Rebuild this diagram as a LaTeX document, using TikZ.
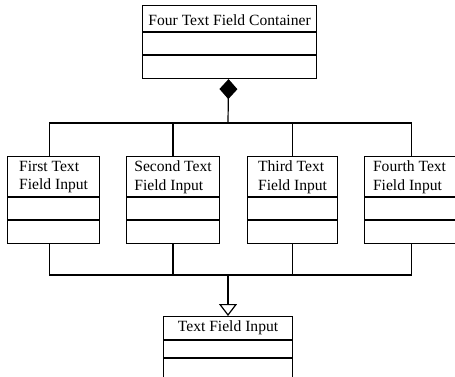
\documentclass[tikz,border=0pt]{standalone}
\usepackage{fontspec}
\setmainfont{Liberation Serif}
\usetikzlibrary{arrows.meta,calc}
\begin{document}
\begin{tikzpicture}[x=1pt,y=-1pt,
  cls/.style={draw=black,line width=1.1pt,fill=white,inner sep=0pt,anchor=north west},
  hdr/.style={font=\fontsize{15.6}{18.5}\selectfont,align=left,inner sep=0pt},
  conn/.style={draw=black,line width=1.2pt},
  comp/.style={line width=1.1pt}]
\useasboundingbox (0,0) rectangle (455,376);
\clip (0,0) rectangle (455,376);
\fill[white] (0,0) rectangle (455,376);
% boxes
\node[cls,minimum width=174pt,minimum height=73pt] (cont) at (142,5) {};
\node[hdr] (conttxt) at ($(cont.north)+(0,15)$) {Four Text Field Container};
\draw[comp] ($(cont.north west)+(0,27)$) -- ($(cont.north east)+(0,27)$);
\draw[comp] ($(cont.north west)+(0,50)$) -- ($(cont.north east)+(0,50)$);

\node[cls,minimum width=92pt,minimum height=87pt] (b1) at (7,156) {};
\node[cls,minimum width=93pt,minimum height=87pt] (b2) at (126,156) {};
\node[cls,minimum width=90pt,minimum height=87pt] (b3) at (247,156) {};
\node[cls,minimum width=94pt,minimum height=87pt] (b4) at (364,156) {};
\node[hdr] (t1) at ($(b1.north)+(0,21)$) {First Text\\Field Input};
\node[hdr] (t2) at ($(b2.north)+(0,21)$) {Second Text\\Field Input};
\node[hdr] (t3) at ($(b3.north)+(0,21)$) {Third Text\\Field Input};
\node[hdr] (t4) at ($(b4.north)+(-2,21)$) {Fourth Text\\Field Input};
\foreach \b in {b1,b2,b3,b4}{
  \draw[comp] ($(\b.north west)+(0,41)$) -- ($(\b.north east)+(0,41)$);
  \draw[comp] ($(\b.north west)+(0,64)$) -- ($(\b.north east)+(0,64)$);
}

\node[cls,minimum width=129pt,minimum height=80pt] (tfi) at (163,316) {};
\node[hdr] (tfitxt) at ($(tfi.north)+(0,12)$) {Text Field Input};
\draw[comp] ($(tfi.north west)+(0,24)$) -- ($(tfi.north east)+(0,24)$);
\draw[comp] ($(tfi.north west)+(0,42)$) -- ($(tfi.north east)+(0,42)$);

% junctions
\coordinate (jt) at (228,123);
\coordinate (jb) at (228,275);

% composition
\draw[conn,{Diamond[length=20pt,width=18pt,fill=black]}-] ([xshift=-1pt]cont.south) -- (jt);
\draw[conn] ([xshift=-4pt]b1.north) |- (jt) -| (b4.north);
\draw[conn] (b2.north) -- (b2.north |- jt);
\draw[conn] (b3.north) -- (b3.north |- jt);

% generalization
\draw[conn] ([xshift=-4pt]b1.south) |- (jb) -| (b4.south);
\draw[conn] (b2.south) -- (b2.south |- jb);
\draw[conn] (b3.south) -- (b3.south |- jb);
\draw[conn,-{Triangle[open,length=12pt,width=18pt,fill=white]}] (jb) -- (jb |- tfi.north);
\end{tikzpicture}
\end{document}
